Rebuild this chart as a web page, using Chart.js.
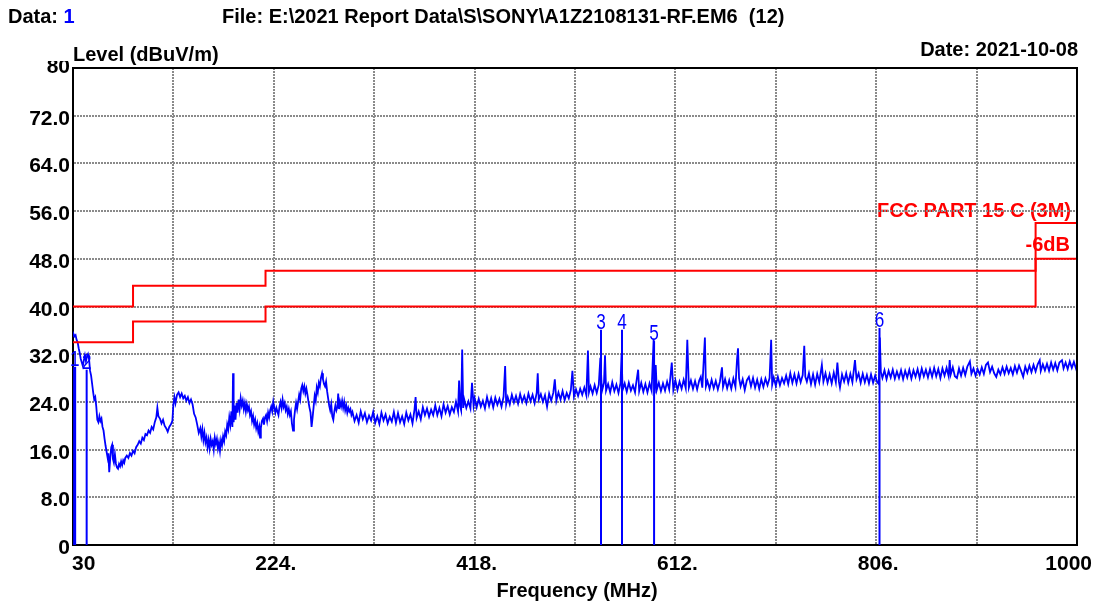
<!DOCTYPE html>
<html><head><meta charset="utf-8">
<script src="https://cdn.jsdelivr.net/npm/chart.js@4"></script>
<style>html,body{margin:0;padding:0;background:#fff;}canvas{display:block;}</style>
</head><body>
<canvas id="c" width="1097" height="603"></canvas>
<script>
const xTicks = [30,127,224,321,418,515,612,709,806,903,1000];
const xTickLabels = ['30','','224.','','418.','','612.','','806.','','1000'];
const yTicks = [0,8,16,24,32,40,48,56,64,72,80];
const yTickLabels = ['0','8.0','16.0','24.0','32.0','40.0','48.0','56.0','64.0','72.0','80'];
const limitFreq  = [30,88,88,216,216,960,960,1000];
const limitLevel = [40,40,43.5,43.5,46,46,54,54];
const marginLevel = [34,34,37.5,37.5,40,40,48,48];
const markerNo    = ['1','2','3','4','5','6'];
const markerFreq  = [31.6,43.2,540.1,560.4,591.4,809.2];
const markerLevel = [29.9,29.4,36.1,36.1,34.2,36.4];
const spectrum = [
[30.2,35.0],[30.5,35.4],[31.5,35.0],[32.5,35.2],[33.5,34.4],[34.5,34.0],[35.5,33.0],[36.5,32.2],[37.5,31.2],[38.5,30.6],[39.5,30.0],
[40.5,31.0],[41.5,31.8],[42.5,30.8],[43.5,31.6],[44.5,32.0],[45.5,31.2],[46.5,29.2],[47.5,28.4],[48.5,27.0],[49.5,25.6],[50.5,24.4],
[51.5,24.8],[52.5,23.2],[53.5,21.0],[54.5,20.6],[55.5,21.6],[56.5,20.8],[57.5,21.2],[58.5,19.8],[59.5,19.2],[60.5,17.8],[61.5,16.6],
[62.5,15.6],[63.5,14.6],[64.2,15.4],[65,12.2],[66,14.6],[67,16.4],[67.8,16.8],[68.6,14.4],[69.5,13.8],[70.5,15.2],[71.5,13.6],
[72.5,13.0],[73.5,12.8],[74.5,13.6],[75.5,13.2],[76.5,14.0],[77.5,13.4],[78.5,14.2],[79.5,13.8],[80.5,14.6],[82,15.0],[83.5,14.6],
[85,15.4],[86.5,15.0],[88,15.8],[89.5,15.4],[91,16.4],[92.5,16.8],[94,17.4],[95.5,17.0],[97,18.0],[98.5,17.6],[100,18.6],[101.5,18.4],
[103,19.2],[104.5,18.8],[106,19.8],[107.5,19.4],[109,20.6],[110.5,21.4],[111.5,23.0],[112.5,21.6],[114,21.2],[115.5,20.4],[117,21.0],
[118.5,20.0],[120,19.6],[121.5,19.0],[123,19.8],[124.5,20.2],[126,20.8],[127,23.6],[128,24.8],[129,23.8],[130.5,25.2],[132,25.6],
[133.5,24.8],[135,25.4],[136.5,24.6],[138,25.0],[139.5,24.2],[141,24.8],[142.5,23.8],[144,24.4],[145.5,23.6],[147,22.0],[148.5,21.4],
[150,20.2],[151.5,18.8],[153,19.6],[154,18.2],[155,19.4],[156,17.6],[157,18.8],[158,17.2],[159,18.0],[160,16.4],[161,17.6],[162,16.2],
[163,17.8],[164,16.8],[165,17.4],[166,16.0],[167,18.0],[168,17.0],[169,17.8],[170,16.2],[171,17.2],[172,15.8],[173,17.6],[174,16.8],
[175,18.2],[176,17.4],[177,19.0],[178,18.4],[179,20.2],[180,19.4],[181,21.4],[182,20.2],[183,22.4],[184,19.8],[184.6,28.8],[185.2,20.6],
[186,23.4],[187,21.0],[188,23.8],[189,22.2],[190,24.4],[191,22.8],[192,24.6],[193,23.4],[194,24.2],[195,22.8],[196,23.8],[197,22.4],
[198,23.6],[199,22.6],[200,23.2],[201,21.8],[202,22.4],[203,20.8],[204,21.6],[205,20.2],[206,21.0],[207,19.6],[208,20.4],[209,19.0],
[210,19.8],[210.7,18.0],[211.5,19.6],[212.5,20.8],[213.6,21.2],[214.5,20.2],[215.5,21.4],[216.5,21.8],[217.5,20.8],[218.5,22.2],
[219.5,21.4],[220.5,22.6],[221.5,23.2],[222.5,22.4],[223.5,24.0],[224.5,23.0],[225.5,22.2],[226.5,23.0],[227.5,22.4],[228.5,21.8],
[229.5,23.2],[230.5,24.0],[231.5,23.0],[232.5,24.4],[233.5,23.2],[234.5,23.8],[235.5,22.6],[236.5,23.2],[237.5,22.0],[238.5,22.8],
[239.5,21.8],[240.5,22.4],[241.5,20.4],[242.6,19.2],[243.5,21.0],[244.5,22.6],[245.5,23.8],[246.5,22.8],[247.5,24.0],[248.5,25.2],
[249.5,24.4],[250.5,26.2],[251.5,26.8],[252.5,25.8],[253.5,26.6],[254.5,25.4],[255.5,26.2],[256.5,25.2],[257.5,24.0],[258.5,23.0],
[259.5,22.2],[260.5,19.8],[261.5,21.4],[262.5,23.2],[263.5,25.0],[264.5,24.2],[265.5,26.4],[266.5,25.6],[267.5,27.2],[268.5,26.6],
[269.5,28.0],[270.6,28.8],[271.5,27.8],[272.5,27.0],[273.5,26.6],[274.5,27.4],[275.5,25.8],[276.5,24.6],[277.5,23.4],[278.5,22.6],
[279.5,23.6],[280.5,21.6],[281.5,21.0],[282.5,22.4],[283.5,23.4],[284.5,22.6],[285.5,23.2],[286.2,25.4],[287,22.8],[288,24.0],
[289,23.2],[290,24.2],[291,23.0],[292,24.0],[293,22.6],[294,23.4],[295,22.2],[296,23.0],[297,22.4],[298,22.8],[299,21.8],
[300,22.3],[302,20.8],[304,21.8],[306,20.5],[308,22.4],[310,21.1],[312,22.1],[314,20.6],[316,21.7],[318,20.9],[320,22.3],[322,20.5],
[324,21.6],[326,20.3],[328,22.2],[330,20.9],[332,21.9],[334,20.4],[336,21.5],[338,20.7],[340,22.3],[342,20.5],[344,22.1],[346,20.6],
[348,21.6],[350,20.3],[352,22.2],[354,20.9],[356,21.9],[358,20.4],[360,22.8],[361,24.8],[362,21.3],[364,22.4],[366,21.1],[368,23.1],
[370,21.8],[372,22.9],[374,21.5],[376,22.7],[378,21.8],[380,23.4],[382,21.8],[384,23.0],[386,21.6],[388,23.6],[390,22.2],[392,23.3],
[394,21.9],[396,23.1],[398,22.3],[400,24.0],[402,22.4],[403,27.6],[404,23.3],[405,22.6],[406,32.8],[407,23.0],[408,24.4],[410,23.0],
[412,24.1],[414,22.9],[415.5,27.2],[417,23.4],[418,24.6],[420,23.1],[422,24.5],[424,23.2],[426,24.2],[428,22.9],[430,24.8],[432,23.3],
[434,24.6],[436,23.1],[438,24.7],[440,23.5],[442,24.5],[444,23.2],[446,24.9],[447.5,30.0],[448.5,23.6],[450,24.8],[452,23.6],[454,25.2],
[456,23.9],[458,25.0],[460,23.7],[462,25.3],[464,24.0],[466,25.0],[468,23.8],[470,25.4],[472,24.1],[474,25.2],[476,23.8],[478,25.5],
[479,28.8],[480,24.4],[482,25.3],[484,24.0],[486,25.1],[488,23.2],[490,25.4],[492,24.2],[494,25.5],[495.5,27.8],[497,24.2],[499,25.6],
[501,24.4],[503,25.8],[505,24.3],[507,25.5],[509,24.6],[511,26.0],[512.5,29.2],[514,24.9],[516,26.1],[518,25.0],[520,26.2],[522,25.2],
[524,26.4],[526,25.1],[527.5,32.6],[528.5,25.6],[530,26.6],[532,25.4],[534,26.8],[536,25.5],[538,26.9],[539.5,31.4],[541,25.8],
[543,27.2],[544,31.8],[545,25.9],[547,27.0],[549,25.6],[551,27.3],[553,25.8],[555,26.9],[557,25.5],[559,27.2],[560,32.0],[561,26.0],
[563,27.1],[565,25.7],[567,27.2],[569,25.9],[571,26.8],[573,25.6],[574,27.0],[576,29.4],[577,25.8],[579,27.2],[581,25.7],[583,27.0],
[585,25.6],[587,27.1],[589,25.9],[591,34.6],[592,25.4],[593,30.2],[594,26.0],[596,27.2],[598,25.8],[600,27.1],[602,25.9],[604,27.4],
[606,26.1],[608.5,30.6],[610,26.0],[612,27.6],[614,26.0],[616,27.4],[618,26.2],[620,27.7],[622,26.3],[623.5,34.4],[625,26.4],[627,27.6],
[629,26.2],[631,27.5],[633,26.1],[635,27.6],[636.5,28.2],[638,26.4],[640.5,34.8],[641.5,26.6],[643,27.5],[645,26.2],[647,27.7],
[649,26.3],[651,27.5],[653,26.1],[655,27.4],[657,29.8],[658,26.5],[660,27.8],[662,26.3],[664,27.6],[666,26.2],[668,27.9],[670,26.5],
[671.5,31.0],[672.5,33.0],[673.5,28.0],[675,26.6],[677,27.8],[679,26.0],[681,27.6],[683,28.2],[685,26.6],[687,28.0],[689,26.4],
[691,27.7],[693,26.2],[695,27.8],[697,26.5],[699,27.9],[701,26.8],[703,28.0],[704.5,34.4],[705.5,26.9],[707,28.1],[709,26.7],[711,28.2],
[713,26.8],[715,28.0],[717,27.1],[719,28.4],[721,27.0],[723,28.8],[725,27.2],[727,28.6],[729,27.1],[731,28.7],[733,27.3],[735,28.5],
[736.5,33.4],[737.5,28.2],[739,27.4],[741,28.8],[743,27.0],[745,28.6],[747,26.9],[749,28.7],[751,27.3],[753.5,30.2],[755,27.4],
[757,28.8],[759,27.2],[761,28.6],[763,27.1],[765,28.9],[767,27.3],[768.5,30.6],[770,27.4],[771,26.4],[773,28.6],[775,27.4],[777,28.8],
[779,27.2],[781,28.7],[783,27.3],[785.5,31.0],[787,27.8],[789,28.8],[791,27.2],[793,28.7],[795,27.3],[797,28.5],[799,27.1],[801,28.6],
[803,27.2],[805,28.4],[807,27.3],[808.5,27.0],[809.5,34.8],[810.5,29.0],[812,28.0],[814,29.3],[816,27.8],[818,29.2],[820,28.1],
[822,29.4],[824,27.9],[826,29.1],[828,28.0],[830,29.3],[832,27.8],[834,29.2],[836,28.1],[838,29.4],[840,27.9],[842,29.3],[844,28.2],
[846,29.5],[848,28.0],[850,29.6],[852,28.3],[854,29.4],[856,28.1],[858,29.5],[860,28.2],[862,29.7],[864,28.3],[866,29.5],[868,28.0],
[870,29.6],[872,28.4],[874,29.7],[876,28.3],[877,31.0],[878,28.6],[880,29.8],[882,28.3],[884,28.0],[886,29.6],[888,28.4],[890,29.7],
[892,28.5],[894,29.9],[896.5,30.8],[898,28.7],[900,29.6],[902,28.4],[904,29.5],[906,28.6],[908,29.8],[910,28.7],[912,30.2],[914,30.6],
[916,29.0],[918,29.9],[920,28.8],[922,28.2],[924,29.4],[926,28.6],[928,29.8],[930,28.7],[932,29.9],[934,28.8],[936,29.7],[938,28.6],
[940,30.0],[942,28.9],[944,30.1],[946,29.2],[948,28.2],[950,29.9],[952,28.9],[954,30.1],[956,29.0],[958,30.2],[960,29.1],[962,30.3],
[964,31.0],[965,29.2],[967,30.3],[969,29.3],[971,30.4],[973,29.2],[975,30.6],[977,29.4],[979,30.5],[981,29.3],[983,30.6],[985.5,31.0],
[987,29.6],[989,30.6],[991,29.5],[993,30.8],[995,29.7],[997,30.7],[999,29.6],[1000,30.2]
];

const FONT = '"Liberation Sans", Arial, Helvetica, sans-serif';
const BLUE = '#0000ff', RED = '#ff0000';

const datasets = [
  {data: spectrum.map(p => ({x: p[0], y: p[1]})), borderColor: BLUE, borderWidth: 1.8, pointRadius: 0, tension: 0, order: 3},
  {data: limitFreq.map((f, i) => ({x: f, y: limitLevel[i]})), borderColor: RED, borderWidth: 2, pointRadius: 0, order: 2},
  {data: limitFreq.map((f, i) => ({x: f, y: marginLevel[i]})), borderColor: RED, borderWidth: 2, pointRadius: 0, order: 2}
];
markerFreq.forEach((f, i) => {
  datasets.push({data: [{x: f, y: 0}, {x: f, y: markerLevel[i]}], borderColor: BLUE, borderWidth: i === 0 ? 3 : 2, pointRadius: 0, order: 1});
});

const overlay = {
  id: 'overlay',
  beforeDraw(chart) {
    // limit captions sit under the grid, as in the reference
    const {ctx} = chart;
    ctx.save();
    ctx.fillStyle = RED;
    ctx.font = 'bold 20px ' + FONT;
    ctx.textAlign = 'right';
    ctx.textBaseline = 'alphabetic';
    ctx.fillText('FCC PART 15 C (3M)', 1071, 217);
    ctx.fillText('-6dB', 1070, 251);
    ctx.restore();
  },
  afterDraw(chart) {
    const {ctx, chartArea: a, scales: {x, y}} = chart;
    ctx.save();
    ctx.strokeStyle = '#000'; ctx.lineWidth = 2;
    ctx.beginPath();
    ctx.moveTo(a.left, a.top); ctx.lineTo(a.right, a.top); ctx.lineTo(a.right, a.bottom);
    ctx.stroke();

    ctx.fillStyle = '#000';
    ctx.font = 'bold 21px ' + FONT;
    ctx.textBaseline = 'alphabetic';
    ctx.textAlign = 'right';
    yTicks.forEach((v, i) => {
      let py = y.getPixelForValue(v) + 9;
      if (i === yTicks.length - 1) py = y.getPixelForValue(v) + 5;
      ctx.fillText(yTickLabels[i], 70, py);
    });
    xTicks.forEach((v, i) => {
      const t = xTickLabels[i];
      if (!t) return;
      const px = x.getPixelForValue(v);
      if (i === 0) { ctx.textAlign = 'left'; ctx.fillText(t, px - 1, 570); }
      else if (i === xTicks.length - 1) { ctx.textAlign = 'right'; ctx.fillText(t, px + 15, 570); }
      else { ctx.textAlign = 'center'; ctx.fillText(t, px + 2, 570); }
    });

    // the title band hides the top of "80"
    ctx.fillStyle = '#fff';
    ctx.fillRect(0, 38, 72, 23);
    ctx.fillStyle = '#000';
    ctx.font = 'bold 20px ' + FONT;
    ctx.textAlign = 'left';
    ctx.fillText('Level (dBuV/m)', 73, 61);
    ctx.fillText('Data: ', 8, 23);
    const w = ctx.measureText('Data: ').width;
    ctx.fillStyle = BLUE;
    ctx.fillText('1', 8 + w, 23);
    ctx.fillStyle = '#000';
    ctx.fillText('File: E:\\2021 Report Data\\S\\SONY\\A1Z2108131-RF.EM6  (12)', 222, 23);
    ctx.textAlign = 'right';
    ctx.fillText('Date: 2021-10-08', 1078, 56);
    ctx.textAlign = 'center';
    ctx.fillText('Frequency (MHz)', 577, 597);

    ctx.fillStyle = BLUE;
    ctx.font = '22px ' + FONT;
    ctx.textAlign = 'center';
    markerNo.forEach((n, i) => {
      const px = x.getPixelForValue(markerFreq[i]);
      const py = y.getPixelForValue(markerLevel[i]);
      ctx.save();
      ctx.translate(px, py - 1);
      ctx.scale(0.78, 1);
      ctx.fillText(n, 0, 0);
      ctx.restore();
    });
    ctx.restore();
  }
};

new Chart(document.getElementById('c'), {
  type: 'line',
  data: {datasets},
  options: {
    responsive: false, animation: false, devicePixelRatio: 1,
    layout: {padding: {top: 68, right: 20, left: 0, bottom: 0}},
    plugins: {legend: {display: false}, tooltip: {enabled: false}, title: {display: false}},
    elements: {line: {fill: false}},
    scales: {
      x: {
        type: 'linear', min: 30, max: 1000,
        afterBuildTicks: s => { s.ticks = xTicks.map(v => ({value: v})); },
        afterFit: s => { s.height = 58; },
        ticks: {display: false},
        grid: {color: '#8a8a8a', lineWidth: 2, drawTicks: false, tickLength: 0},
        border: {display: true, color: '#000', width: 2, dash: [2, 1]}
      },
      y: {
        type: 'linear', min: 0, max: 80,
        afterBuildTicks: s => { s.ticks = yTicks.map(v => ({value: v})); },
        afterFit: s => { s.width = 73; },
        ticks: {display: false},
        grid: {color: '#8a8a8a', lineWidth: 2, drawTicks: false, tickLength: 0},
        border: {display: true, color: '#000', width: 2, dash: [2, 1]}
      }
    }
  },
  plugins: [overlay]
});
</script>
</body></html>
